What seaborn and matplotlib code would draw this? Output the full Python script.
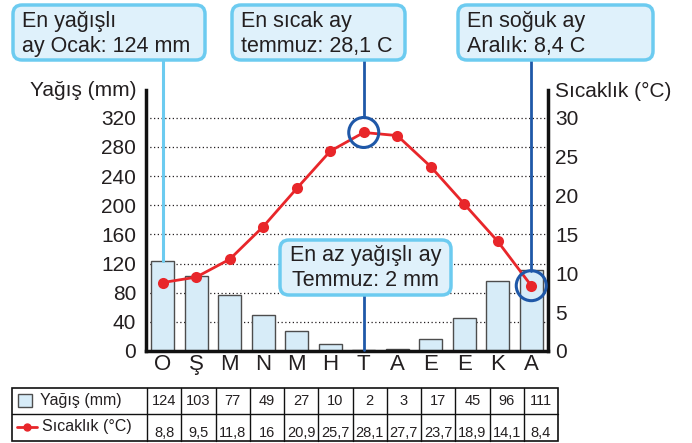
import matplotlib
matplotlib.use("Agg")
import matplotlib.pyplot as plt
from matplotlib.patches import FancyBboxPatch, Rectangle, Circle
import pandas as pd
import seaborn as sns

# veriler
months = ["O", "Ş", "M", "N", "M", "H", "T", "A", "E", "E", "K", "A"]
rain_mm = [124, 103, 77, 49, 27, 10, 2, 3, 17, 45, 96, 111]
temp_c = [8.8, 9.5, 11.8, 16, 20.9, 25.7, 28.1, 27.7, 23.7, 18.9, 14.1, 8.4]
rain_ticks = [0, 40, 80, 120, 160, 200, 240, 280, 320]
temp_ticks = [0, 5, 10, 15, 20, 25, 30]

W, H = 692, 443
TXT = "#231f20"
BAR = "#d7ecf8"
EDGE = "#4d4d4d"
RED = "#e8262a"
LBLUE = "#6ccbf0"
BOXFC = "#dff1fb"
DBLUE = "#1f58a8"
FS = 15
FS_BOX = 15.5
FS_TAB = 11.5
FS_NUM = 10.5

sns.set_theme(style="white")
plt.rcParams["font.family"] = ["Liberation Sans", "DejaVu Sans"]
plt.rcParams["text.color"] = TXT

df = pd.DataFrame({"ay": range(12), "yagis": rain_mm, "sicaklik": temp_c})

fig = plt.figure(figsize=(W / 100, H / 100), dpi=100)


def rect(x0, y0, x1, y1):
    return [x0 / W, 1 - y1 / H, (x1 - x0) / W, (y1 - y0) / H]


ax = fig.add_axes(rect(146, 90, 548, 351))
sns.barplot(data=df, x="ay", y="yagis", color=BAR, saturation=1,
            edgecolor=EDGE, linewidth=1, width=0.7, ax=ax)
ax.set_xlim(-0.5, 11.5)
ymax = 358
ax.set_ylim(0, ymax)
ax.set_yticks(rain_ticks)
ax.set_xticks(range(12))
ax.set_xticklabels(months)
ax.set_xlabel("")
ax.set_ylabel("")
ax.grid(axis="y", color=TXT, linestyle=(0, (1, 2)), linewidth=0.9)
ax.set_axisbelow(True)
ax.tick_params(axis="y", length=0, labelsize=FS, pad=7, labelcolor=TXT)
ax.tick_params(axis="x", length=0, labelsize=16, pad=2, labelcolor=TXT)
for s in ["top", "right"]:
    ax.spines[s].set_visible(False)
for s in ["left", "bottom"]:
    ax.spines[s].set_linewidth(2.5)
    ax.spines[s].set_color("#111111")

ax2 = ax.twinx()
sns.lineplot(data=df, x="ay", y="sicaklik", color=RED, marker="o",
             markersize=8, markeredgewidth=0, linewidth=2, ax=ax2)
ax2.set_ylim(0, ymax * 30 / 320)
ax2.set_yticks(temp_ticks)
ax2.set_ylabel("")
ax2.grid(False)
ax2.tick_params(axis="y", length=0, labelsize=FS, pad=5, labelcolor=TXT)
for s in ["top", "left", "bottom"]:
    ax2.spines[s].set_visible(False)
ax2.spines["right"].set_linewidth(2.5)
ax2.spines["right"].set_color("#111111")

fig.text(136 / W, 1 - 91 / H, "Yağış (mm)", ha="right", va="center", fontsize=FS)
fig.text(555 / W, 1 - 91 / H, "Sıcaklık (°C)", ha="left", va="center", fontsize=FS)

# çizim üstü katman (piksel koordinatları)
ov = fig.add_axes([0, 0, 1, 1])
ov.set_xlim(0, W)
ov.set_ylim(H, 0)
ov.axis("off")
ov.set_zorder(10)


def to_px(a, x, y):
    dx, dy = a.transData.transform((x, y))
    return dx, H - dy


def box(x0, y0, x1, y1):
    ov.add_patch(FancyBboxPatch((x0, y0), x1 - x0, y1 - y0,
                                boxstyle="round,pad=0,rounding_size=9",
                                fc=BOXFC, ec=LBLUE, lw=2.5, zorder=3))


# en yağışlı ay
wet = rain_mm.index(max(rain_mm))
bx, by = to_px(ax, wet, rain_mm[wet])
ov.plot([bx, bx], [60, by], color=LBLUE, lw=2.2, zorder=2)
box(13, 5, 205, 60)
ov.text(22, 21, "En yağışlı", fontsize=FS_BOX, va="center", zorder=4)
ov.text(22, 46, f"ay Ocak: {rain_mm[wet]} mm", fontsize=FS_BOX, va="center", zorder=4)

# en sıcak ay
hot = temp_c.index(max(temp_c))
hx, hy = to_px(ax2, hot, temp_c[hot])
ov.add_patch(Circle((hx, hy), 15, fill=False, ec=DBLUE, lw=2.2, zorder=2))
ov.plot([hx, hx], [60, hy - 15], color=DBLUE, lw=2, zorder=2)
box(232, 5, 405, 60)
ov.text(241, 21, "En sıcak ay", fontsize=FS_BOX, va="center", zorder=4)
ov.text(241, 46, "temmuz: " + f"{temp_c[hot]:g}".replace(".", ",") + " C",
        fontsize=FS_BOX, va="center", zorder=4)

# en soğuk ay
cold = temp_c.index(min(temp_c))
cx, cy = to_px(ax2, cold, temp_c[cold])
ov.add_patch(Circle((cx, cy), 15, fill=False, ec=DBLUE, lw=2.2, zorder=2))
ov.plot([cx, cx], [60, cy - 15], color=DBLUE, lw=2, zorder=2)
box(458, 5, 653, 60)
ov.text(467, 21, "En soğuk ay", fontsize=FS_BOX, va="center", zorder=4)
ov.text(467, 46, "Aralık: " + f"{temp_c[cold]:g}".replace(".", ",") + " C",
        fontsize=FS_BOX, va="center", zorder=4)

# en az yağışlı ay
dry = rain_mm.index(min(rain_mm))
dx, dy = to_px(ax, dry, rain_mm[dry])
ov.plot([dx, dx], [295, dy], color=DBLUE, lw=2, zorder=2)
box(280, 240, 451, 295)
ov.text(365.5, 256, "En az yağışlı ay", fontsize=FS_BOX, ha="center", va="center",
        zorder=4)
ov.text(365.5, 281, f"Temmuz: {rain_mm[dry]} mm", fontsize=FS_BOX, ha="center",
        va="center", zorder=4)

# alt tablo
tx0, tx1, ty0, tym, ty1 = 12, 558, 388, 414, 441
col0 = 147
cw = (tx1 - col0) / len(months)
ov.add_patch(Rectangle((tx0, ty0), tx1 - tx0, ty1 - ty0, fill=False,
                       ec="#111111", lw=1.2))
ov.plot([tx0, tx1], [tym, tym], color="#111111", lw=1)
for i in range(len(months)):
    xl = col0 + i * cw
    ov.plot([xl, xl], [ty0, ty1], color="#111111", lw=1)
    ov.text(xl + cw / 2, 401, str(rain_mm[i]), fontsize=FS_NUM, ha="center",
            va="center")
    ov.text(xl + cw / 2, 433, f"{temp_c[i]:g}".replace(".", ","), fontsize=FS_NUM,
            ha="center", va="center")

ov.add_patch(Rectangle((18, 394), 14, 13, fc=BAR, ec=EDGE, lw=1))
ov.text(40, 401, "Yağış (mm)", fontsize=FS_TAB, va="center")
ov.plot([17, 37], [427, 427], color=RED, lw=2)
ov.plot([27], [427], "o", color=RED, markersize=5)
ov.text(42, 427, "Sıcaklık (°C)", fontsize=FS_TAB, va="center")

fig.savefig("out.png", dpi=100)
